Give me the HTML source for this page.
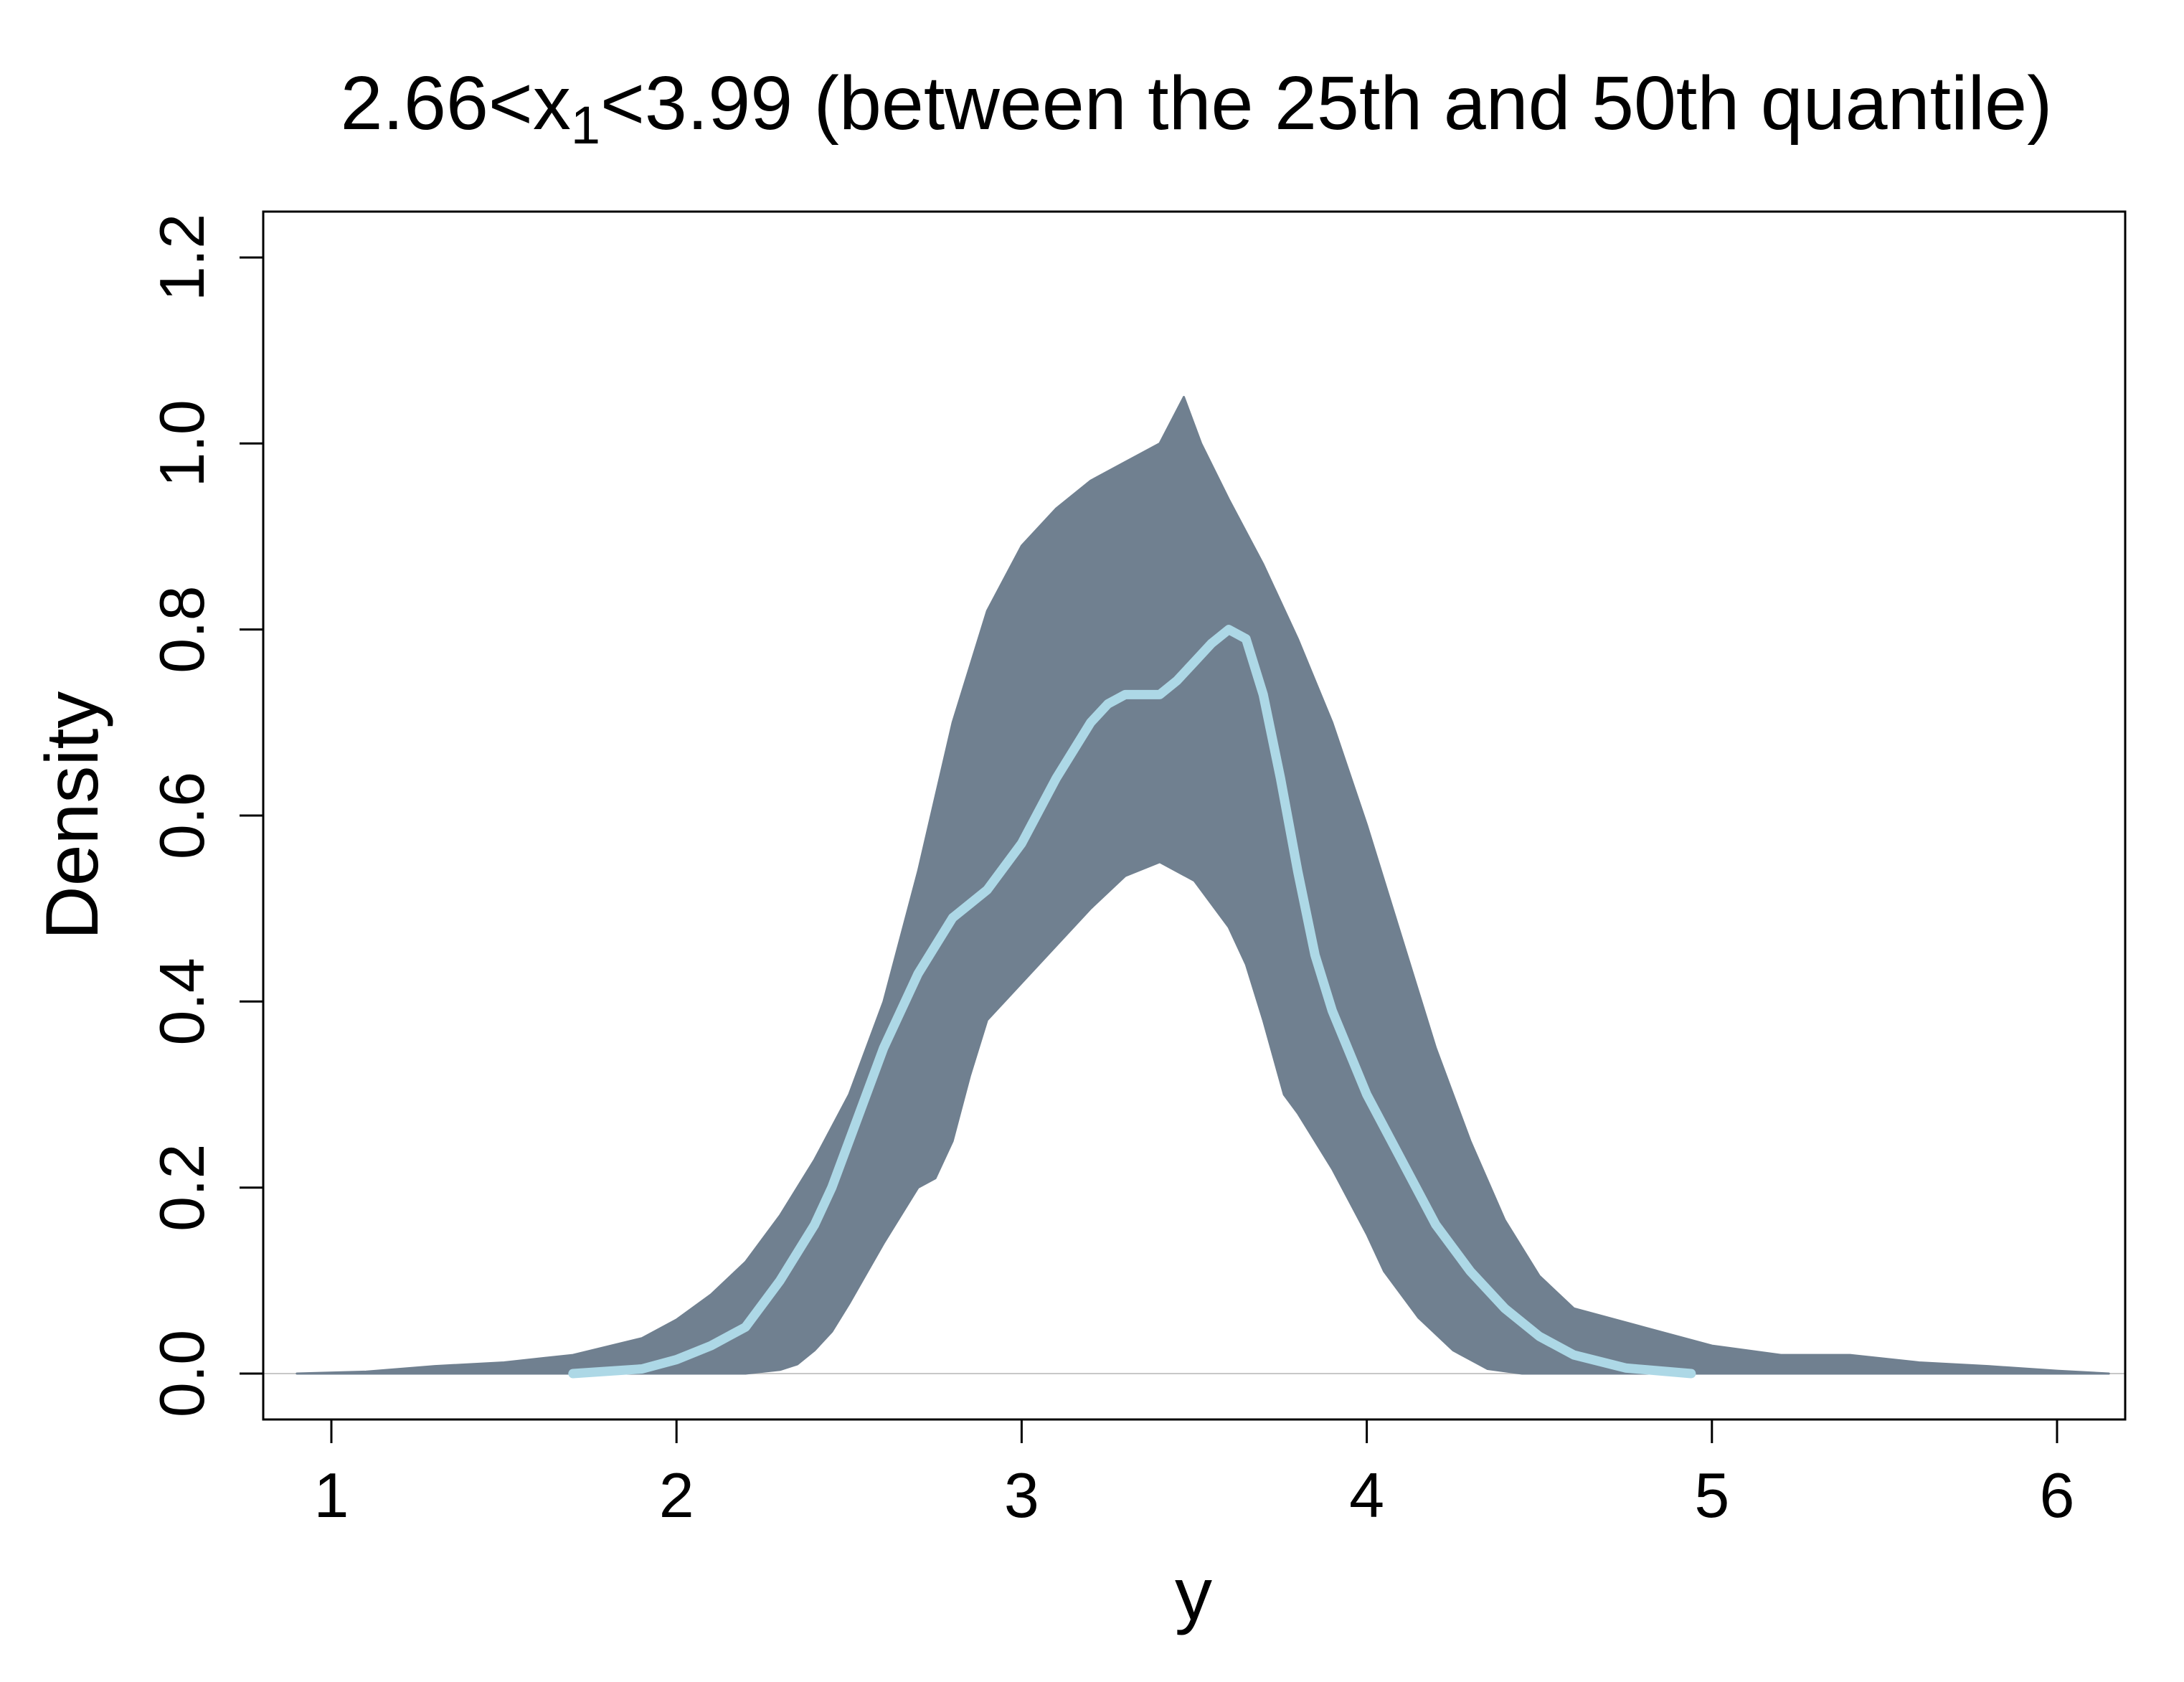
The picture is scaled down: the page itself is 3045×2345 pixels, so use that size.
<!DOCTYPE html>
<html><head><meta charset="utf-8"><style>
html,body{margin:0;padding:0;background:#fff}
svg{display:block}
text{font-family:"Liberation Sans",Arial,sans-serif;fill:#000}
</style></head><body>
<svg width="3045" height="2345" viewBox="0 0 3045 2345" xmlns="http://www.w3.org/2000/svg">
<rect width="3045" height="2345" fill="#fff"/>
<line x1="367" y1="1915" x2="2963" y2="1915" stroke="#c8c8c8" stroke-width="2"/>
<g transform="translate(-19.2,1915) scale(481.2,-1296.7)">
<polygon fill="#708090" stroke="#708090" stroke-width="3" stroke-linejoin="round" vector-effect="non-scaling-stroke" points="0.9,0 1.1,0.002 1.3,0.008 1.5,0.012 1.7,0.02 1.9,0.038 2.0,0.058 2.1,0.085 2.2,0.12 2.3,0.17 2.4,0.23 2.5,0.3 2.6,0.4 2.7,0.54 2.8,0.7 2.9,0.82 3.0,0.89 3.1,0.93 3.2,0.96 3.3,0.98 3.4,1.0 3.47,1.05 3.52,1.0 3.6,0.94 3.7,0.87 3.8,0.79 3.9,0.7 4.0,0.59 4.1,0.47 4.2,0.35 4.3,0.25 4.4,0.165 4.5,0.105 4.6,0.07 4.8,0.05 5.0,0.03 5.2,0.02 5.4,0.02 5.6,0.012 5.8,0.008 6.0,0.003 6.15,0 4.45,0 4.35,0.005 4.25,0.025 4.15,0.06 4.05,0.11 4.0,0.15 3.9,0.22 3.8,0.28 3.76,0.3 3.7,0.38 3.65,0.44 3.6,0.48 3.5,0.53 3.4,0.55 3.3,0.535 3.2,0.5 3.1,0.46 3.0,0.42 2.9,0.38 2.85,0.32 2.8,0.25 2.75,0.21 2.7,0.2 2.6,0.14 2.5,0.075 2.45,0.045 2.4,0.025 2.35,0.01 2.3,0.004 2.2,0 0.9,0"/>
<polyline fill="none" stroke="#ADD8E6" stroke-width="13" stroke-linejoin="round" stroke-linecap="round" vector-effect="non-scaling-stroke" points="1.7,0 1.9,0.005 2.0,0.015 2.1,0.03 2.2,0.05 2.3,0.1 2.4,0.16 2.45,0.2 2.5,0.25 2.6,0.35 2.7,0.43 2.75,0.46 2.8,0.49 2.9,0.52 3.0,0.57 3.1,0.64 3.2,0.7 3.25,0.72 3.3,0.73 3.4,0.73 3.45,0.745 3.5,0.765 3.55,0.785 3.6,0.8 3.65,0.79 3.7,0.73 3.75,0.64 3.8,0.54 3.85,0.45 3.9,0.39 4.0,0.3 4.1,0.23 4.2,0.16 4.3,0.11 4.4,0.07 4.5,0.04 4.6,0.02 4.75,0.006 4.94,0"/>
</g>
<rect x="367" y="295" width="2596" height="1684" fill="none" stroke="#000" stroke-width="3"/>
<g stroke="#000" stroke-width="3">
<line x1="462" y1="1979" x2="462" y2="2012"/>
<line x1="943.2" y1="1979" x2="943.2" y2="2012"/>
<line x1="1424.4" y1="1979" x2="1424.4" y2="2012"/>
<line x1="1905.6" y1="1979" x2="1905.6" y2="2012"/>
<line x1="2386.8" y1="1979" x2="2386.8" y2="2012"/>
<line x1="2868" y1="1979" x2="2868" y2="2012"/>
<line x1="334" y1="1915" x2="367" y2="1915"/>
<line x1="334" y1="1655.7" x2="367" y2="1655.7"/>
<line x1="334" y1="1396.3" x2="367" y2="1396.3"/>
<line x1="334" y1="1137" x2="367" y2="1137"/>
<line x1="334" y1="877.6" x2="367" y2="877.6"/>
<line x1="334" y1="618.3" x2="367" y2="618.3"/>
<line x1="334" y1="359" x2="367" y2="359"/>
</g>
<g font-size="88" text-anchor="middle">
<text x="462" y="2115">1</text>
<text x="943.2" y="2115">2</text>
<text x="1424.4" y="2115">3</text>
<text x="1905.6" y="2115">4</text>
<text x="2386.8" y="2115">5</text>
<text x="2868" y="2115">6</text>
<text transform="translate(284,1915) rotate(-90)">0.0</text>
<text transform="translate(284,1655.7) rotate(-90)">0.2</text>
<text transform="translate(284,1396.3) rotate(-90)">0.4</text>
<text transform="translate(284,1137) rotate(-90)">0.6</text>
<text transform="translate(284,877.6) rotate(-90)">0.8</text>
<text transform="translate(284,618.3) rotate(-90)">1.0</text>
<text transform="translate(284,359) rotate(-90)">1.2</text>
</g>
<text x="1664" y="2258" font-size="104" text-anchor="middle">y</text>
<text transform="translate(136,1137) rotate(-90)" font-size="104" text-anchor="middle">Density</text>
<text x="1668" y="180" font-size="106" text-anchor="middle">2.66&lt;x<tspan font-size="74" dy="20">1</tspan><tspan dy="-20">&lt;3.99 (between the 25th and 50th quantile)</tspan></text>
</svg>
</body></html>
